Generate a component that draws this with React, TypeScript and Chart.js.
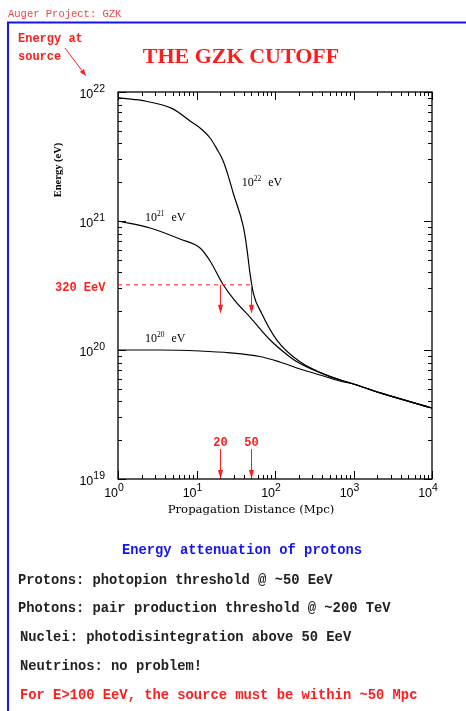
import { useEffect, useRef } from "react";
import { Chart, registerables } from "chart.js";

Chart.register(...registerables);

const WIDTH = 466;
const HEIGHT = 711;

// Proton energy (eV) vs. propagation distance (Mpc) for three injection energies
const dist22 = [1, 2, 5, 8.27, 11.1, 14.9, 18.2, 21.6, 25.2, 29.4, 39.5, 43.6, 48, 53, 67.7, 105, 208, 500, 1000, 2190, 10000];
const energy22 = [9.0e21, 8.6e21, 7.4e21, 5.96e21, 5.26e21, 4.4e21, 3.61e21, 2.97e21, 2.27e21, 1.64e21, 9.03e20, 6.28e20, 3.94e20, 2.75e20, 1.92e20, 1.2e20, 8.1e19, 6.25e19, 5.45e19, 4.65e19, 3.55e19];

const dist21 = [1, 2.56, 6.16, 11.1, 14.9, 21.6, 31, 48, 86, 155, 208, 500, 1000, 2190, 10000];
const energy21 = [1.0e21, 8.83e20, 7.25e20, 6.18e20, 4.9e20, 3.25e20, 2.4e20, 1.8e20, 1.2e20, 8.84e19, 7.85e19, 6.22e19, 5.45e19, 4.65e19, 3.55e19];

const dist20 = [1, 3.4, 11, 26.7, 64, 115, 208, 374, 670, 1000, 2190, 10000];
const energy20 = [1.0e20, 1.0e20, 9.82e19, 9.5e19, 8.9e19, 8.07e19, 7.13e19, 6.4e19, 5.75e19, 5.45e19, 4.65e19, 3.55e19];

// Axis decades (powers of ten)
const xDecades = [0, 1, 2, 3, 4];
const yDecades = [19, 20, 21, 22];

// Injection-energy labels on the curves: exponent, anchor distance, anchor energy
const curveLabelExp = [22, 21, 20];
const curveLabelDist = [37.7, 2.21, 2.21];
const curveLabelEnergy = [1.87e21, 1.0e21, 1.15e20];

// 320 EeV threshold and the corresponding horizon distances
const thresholdEnergy = 3.2e20;
const thresholdLabel = "320 EeV";
const horizonDistances = [20, 50];

const notes = [
  "Protons: photopion threshold @ ~50 EeV",
  "Photons: pair production threshold @ ~200 TeV",
  "Nuclei: photodisintegration above 50 EeV",
  "Neutrinos: no problem!",
];
const conclusion = "For E>100 EeV, the source must be within ~50 Mpc";

const RED = "#ff1c1c";
const BLUE = "#1414f0";

function toPoints(xs: number[], ys: number[]) {
  return xs.map((x, i) => ({ x, y: ys[i] }));
}

function drawPower(
  ctx: CanvasRenderingContext2D,
  x: number,
  y: number,
  exp: number,
  baseFont: string,
  supFont: string,
  rise: number
) {
  ctx.textAlign = "left";
  ctx.textBaseline = "alphabetic";
  ctx.font = baseFont;
  ctx.fillText("10", x, y);
  const w1 = ctx.measureText("10").width;
  ctx.font = supFont;
  ctx.fillText(String(exp), x + w1, y - rise);
  return w1 + ctx.measureText(String(exp)).width;
}

function powerWidth(ctx: CanvasRenderingContext2D, exp: number, baseFont: string, supFont: string) {
  ctx.font = baseFont;
  const w1 = ctx.measureText("10").width;
  ctx.font = supFont;
  return w1 + ctx.measureText(String(exp)).width;
}

function arrow(ctx: CanvasRenderingContext2D, x0: number, y0: number, x1: number, y1: number, head: number, half: number) {
  const ang = Math.atan2(y1 - y0, x1 - x0);
  const bx = x1 - head * Math.cos(ang);
  const by = y1 - head * Math.sin(ang);
  ctx.beginPath();
  ctx.moveTo(x0, y0);
  ctx.lineTo(bx, by);
  ctx.stroke();
  ctx.beginPath();
  ctx.moveTo(x1, y1);
  ctx.lineTo(bx + half * Math.sin(ang), by - half * Math.cos(ang));
  ctx.lineTo(bx - half * Math.sin(ang), by + half * Math.cos(ang));
  ctx.closePath();
  ctx.fill();
}

const decorations = {
  id: "gzkDecorations",
  afterDraw(chart: any) {
    const ctx: CanvasRenderingContext2D = chart.ctx;
    const xs = chart.scales.x;
    const ys = chart.scales.y;
    const { left, right, top, bottom } = chart.chartArea;
    ctx.save();

    // page frame
    ctx.strokeStyle = BLUE;
    ctx.lineWidth = 2;
    ctx.beginPath();
    ctx.moveTo(8, HEIGHT + 5);
    ctx.lineTo(8, 22.5);
    ctx.lineTo(WIDTH + 5, 22.5);
    ctx.stroke();

    ctx.fillStyle = "#e84848";
    ctx.font = "10.5px 'Liberation Mono'";
    ctx.textBaseline = "alphabetic";
    ctx.textAlign = "left";
    ctx.fillText("Auger Project: GZK", 8, 17);

    // title
    ctx.fillStyle = RED;
    ctx.font = "bold 22px 'Liberation Serif'";
    ctx.textAlign = "center";
    ctx.fillText("THE GZK CUTOFF", 241, 63);

    // "Energy at source" note
    ctx.font = "bold 12px 'Liberation Mono'";
    ctx.textAlign = "left";
    ctx.fillText("Energy at", 18, 42);
    ctx.fillText("source", 18, 60);
    ctx.strokeStyle = RED;
    ctx.lineWidth = 1;
    arrow(ctx, 65, 48, 86, 76, 7, 2.5);

    // plot frame
    ctx.strokeStyle = "#000";
    ctx.lineWidth = 1.3;
    ctx.strokeRect(left, top, right - left, bottom - top);

    // inward ticks
    ctx.lineWidth = 1;
    ctx.beginPath();
    for (const k of xDecades) {
      for (let m = 1; m <= 9; m++) {
        const v = m * Math.pow(10, k);
        if (v > 1e4) break;
        const px = Math.round(xs.getPixelForValue(v)) + 0.5;
        const len = m === 1 ? 8 : 4;
        ctx.moveTo(px, bottom);
        ctx.lineTo(px, bottom - len);
        ctx.moveTo(px, top);
        ctx.lineTo(px, top + len);
      }
    }
    for (const k of yDecades) {
      for (let m = 1; m <= 9; m++) {
        const v = m * Math.pow(10, k);
        if (v > 1e22) break;
        const py = Math.round(ys.getPixelForValue(v)) + 0.5;
        const len = m === 1 ? 8 : 4;
        ctx.moveTo(left, py);
        ctx.lineTo(left + len, py);
        ctx.moveTo(right, py);
        ctx.lineTo(right - len, py);
      }
    }
    ctx.stroke();

    // tick labels
    ctx.fillStyle = "#000";
    const tickBase = "12.5px 'Liberation Sans'";
    const tickSup = "10.5px 'Liberation Sans'";
    for (const k of yDecades) {
      const py = ys.getPixelForValue(Math.pow(10, k));
      const w = powerWidth(ctx, k, tickBase, tickSup);
      drawPower(ctx, left - 13 - w, py + 5.5, k, tickBase, tickSup, 6);
    }
    for (const k of xDecades) {
      const px = xs.getPixelForValue(Math.pow(10, k));
      const w = powerWidth(ctx, k, tickBase, tickSup);
      drawPower(ctx, px - 4 - w / 2, bottom + 18, k, tickBase, tickSup, 6);
    }

    // axis titles
    ctx.font = "11.7px 'DejaVu Serif'";
    ctx.textAlign = "center";
    ctx.fillText("Propagation Distance (Mpc)", 251, 513);
    ctx.save();
    ctx.translate(61, 170);
    ctx.rotate(-Math.PI / 2);
    ctx.font = "bold 10.5px 'Liberation Serif'";
    ctx.fillText("Energy (eV)", 0, 0);
    ctx.restore();

    // curve labels
    curveLabelExp.forEach((exp, i) => {
      const px = xs.getPixelForValue(curveLabelDist[i]);
      const py = ys.getPixelForValue(curveLabelEnergy[i]);
      const w = drawPower(ctx, px, py, exp, "12px 'Liberation Serif'", "7.5px 'Liberation Serif'", 5);
      ctx.font = "12px 'Liberation Serif'";
      ctx.fillText("eV", px + w + 7, py);
    });

    // threshold line and horizon arrows
    const ty = ys.getPixelForValue(thresholdEnergy);
    const xEnd = xs.getPixelForValue(horizonDistances[horizonDistances.length - 1]);
    ctx.strokeStyle = RED;
    ctx.fillStyle = RED;
    ctx.lineWidth = 1;
    ctx.setLineDash([4, 4]);
    ctx.beginPath();
    ctx.moveTo(left, ty);
    ctx.lineTo(xEnd, ty);
    ctx.stroke();
    ctx.setLineDash([]);

    ctx.font = "bold 12px 'Liberation Mono'";
    ctx.textAlign = "left";
    ctx.fillText(thresholdLabel, 55, ty + 6);

    horizonDistances.forEach((d) => {
      const px = Math.round(xs.getPixelForValue(d)) + 0.5;
      arrow(ctx, px, ty, px, ty + 29, 9, 2.5);
      arrow(ctx, px, bottom - 30, px, bottom, 9, 2.5);
      ctx.textAlign = "center";
      ctx.fillText(String(d), px, bottom - 33);
    });

    // notes below the plot
    ctx.textAlign = "center";
    ctx.fillStyle = BLUE;
    ctx.font = "bold 13.8px 'Liberation Mono'";
    ctx.fillText("Energy attenuation of protons", 242, 554);
    ctx.textAlign = "left";
    ctx.fillStyle = "#222";
    const noteX = [18, 18, 20, 20];
    const noteY = [584, 612, 641, 670];
    notes.forEach((t, i) => ctx.fillText(t, noteX[i], noteY[i]));
    ctx.fillStyle = RED;
    ctx.fillText(conclusion, 20, 699);

    ctx.restore();
  },
};

export default function App() {
  const canvasRef = useRef<HTMLCanvasElement | null>(null);

  useEffect(() => {
    const canvas = canvasRef.current;
    if (!canvas) return;
    const line = { borderColor: "#000", borderWidth: 1.2, pointRadius: 0, showLine: true, cubicInterpolationMode: "monotone" as const };
    const chart = new Chart(canvas, {
      type: "scatter",
      data: {
        datasets: [
          { label: "1e22 eV", data: toPoints(dist22, energy22), ...line },
          { label: "1e21 eV", data: toPoints(dist21, energy21), ...line },
          { label: "1e20 eV", data: toPoints(dist20, energy20), ...line },
        ],
      },
      options: {
        responsive: false,
        animation: false,
        events: [],
        layout: { padding: { left: 118, top: 92, right: 34, bottom: 232 } },
        plugins: { legend: { display: false }, tooltip: { enabled: false } },
        scales: {
          x: { type: "logarithmic", min: 1, max: 1e4, display: false },
          y: { type: "logarithmic", min: 1e19, max: 1e22, display: false },
        },
      },
      plugins: [decorations],
    });
    return () => chart.destroy();
  }, []);

  return (
    <div style={{ position: "absolute", left: 0, top: 0, width: WIDTH, height: HEIGHT, background: "#fff", overflow: "hidden" }}>
      <canvas ref={canvasRef} width={WIDTH} height={HEIGHT} style={{ display: "block" }} />
    </div>
  );
}
